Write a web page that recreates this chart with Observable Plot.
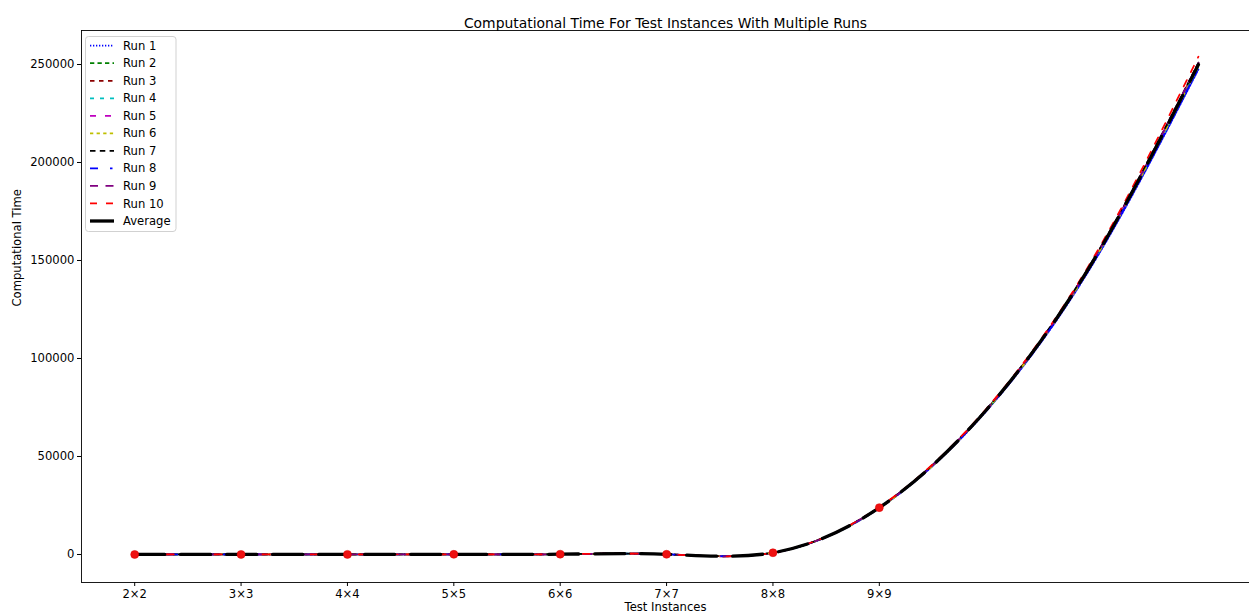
<!DOCTYPE html>
<html>
<head>
<meta charset="utf-8">
<script src="https://cdn.jsdelivr.net/npm/d3@7"></script>
<script src="https://cdn.jsdelivr.net/npm/@observablehq/plot@0.6"></script>
<style>
  html, body { margin: 0; padding: 0; background: #fff; }
  #chart svg { display: block; }
</style>
</head>
<body>
<div id="chart"></div>
<script>
// ---- data ----
const instances = [2, 3, 4, 5, 6, 7, 8, 9, 10, 11, 12];
const tickInstances = [2, 3, 4, 5, 6, 7, 8, 9];
const yTicks = [0, 50000, 100000, 150000, 200000, 250000];

const run1  = [12, 25, 48, 90, 160, 110, 870, 23600, 72800, 147500, 247500];
const run2  = [14, 27, 50, 92, 158, 115, 900, 23900, 73200, 148800, 249500];
const run3  = [13, 26, 47, 89, 162, 108, 890, 24100, 73600, 149200, 250500];
const run4  = [15, 24, 49, 91, 159, 112, 910, 23800, 73300, 148600, 249000];
const run5  = [12, 28, 51, 88, 161, 109, 880, 24000, 73500, 149000, 250200];
const run6  = [14, 25, 46, 93, 157, 113, 920, 23700, 73100, 148400, 249200];
const run7  = [13, 27, 50, 90, 163, 111, 895, 24050, 73700, 149400, 251000];
const run8  = [15, 26, 48, 87, 160, 114, 905, 23850, 73000, 148100, 248300];
const run9  = [12, 24, 52, 92, 158, 110, 885, 23950, 73400, 149100, 250800];
const run10 = [14, 28, 49, 89, 162, 112, 915, 24150, 74000, 150200, 254000];
const average = [13.4, 26, 49, 90.1, 160, 111.4, 897, 23910, 73360, 148830, 249950];

const runNames = ["Run 1", "Run 2", "Run 3", "Run 4", "Run 5", "Run 6", "Run 7", "Run 8", "Run 9", "Run 10"];
const runValues = [run1, run2, run3, run4, run5, run6, run7, run8, run9, run10];
const runColors = ["#0000ff", "#008000", "#8b0000", "#00bfbf", "#bf00bf", "#bfbf00", "#000000", "#0000ff", "#800080", "#ff0000"];
const runDashes = ["1.3,1.7", "4.3,3.2", "4.5,4.5", "4,6", "6,9", "3.3,3.3", "5.5,4.3", "8,12,2.5,12", "8,7.5", "7,9"];

const titleText = "Computational Time For Test Instances With Multiple Runs";
const xLabel = "Test Instances";
const yLabel = "Computational Time";

// ---- chart ----
const rows = (vals) => instances.map((x, i) => ({x, y: vals[i]}));
const xDomain = [1.5, 12.48];
const yDomain = [-14286, 267347];
const font = "DejaVu Sans, sans-serif";

const runMarks = runValues.map((vals, k) =>
  Plot.line(rows(vals), {
    x: "x", y: "y", curve: "natural",
    stroke: runColors[k], strokeWidth: 1.74,
    strokeDasharray: runDashes[k]
  })
);

const dotRows = rows(average).filter(d => tickInstances.includes(d.x));

const chart = Plot.plot({
  width: 1249,
  height: 615,
  marginLeft: 81,
  marginRight: 0,
  marginTop: 30,
  marginBottom: 33,
  style: {fontFamily: font, fontSize: "11.6px", color: "#000", background: "#fff"},
  x: {domain: xDomain},
  y: {domain: yDomain},
  marks: [
    ...runMarks,
    Plot.line(rows(average), {x: "x", y: "y", curve: "natural", stroke: "#000", strokeWidth: 3.3, strokeDasharray: "30,16"}),
    Plot.dot(dotRows, {x: "x", y: "y", r: 4, fill: "#ee1111", stroke: "#dd0000", strokeWidth: 0.5}),
    Plot.axisX({ticks: tickInstances, tickFormat: d => `${d}×${d}`, tickSize: 4, tickPadding: 3, label: null, fontSize: 11.6}),
    Plot.axisY({ticks: yTicks, tickFormat: d => String(d), tickSize: 4, tickPadding: 3, label: null, fontSize: 11.6}),
    Plot.ruleX([xDomain[0]], {stroke: "#000", strokeWidth: 0.9}),
    Plot.ruleY([yDomain[0]], {stroke: "#000", strokeWidth: 0.9}),
    Plot.ruleY([yDomain[1]], {stroke: "#000", strokeWidth: 0.9}),
    Plot.text([titleText], {text: d => d, frameAnchor: "top", dy: -12, fontSize: 13.9, fill: "#000"}),
    Plot.text([xLabel], {text: d => d, frameAnchor: "bottom", dy: 28, fontSize: 11.6, fill: "#000"}),
    Plot.text([yLabel], {text: d => d, frameAnchor: "left", dx: -64, rotate: -90, fontSize: 11.6, fill: "#000"})
  ]
});

document.getElementById("chart").appendChild(chart);

// ---- legend ----
const svg = d3.select(chart);
const legendEntries = runNames.map((name, k) => ({name, color: runColors[k], dash: runDashes[k], width: 1.74}))
  .concat([{name: "Average", color: "#000", dash: null, width: 3.3}]);
const lg = svg.append("g").attr("font-family", font).attr("font-size", "11.6px").attr("text-anchor", "start");
lg.append("rect")
  .attr("x", 85.5).attr("y", 36.5).attr("width", 90.5).attr("height", 195)
  .attr("rx", 3).attr("fill", "#fff").attr("fill-opacity", 0.8)
  .attr("stroke", "#cccccc").attr("stroke-width", 0.9);
legendEntries.forEach((e, i) => {
  const y = 45.7 + i * 17.53;
  const ln = lg.append("line")
    .attr("x1", 90).attr("x2", 114).attr("y1", y).attr("y2", y)
    .attr("stroke", e.color).attr("stroke-width", e.width);
  if (e.dash) ln.attr("stroke-dasharray", e.dash);
  lg.append("text").attr("x", 123).attr("y", y).attr("dy", "0.35em")
    .attr("text-anchor", "start").attr("fill", "#000").text(e.name);
});
</script>
</body>
</html>
